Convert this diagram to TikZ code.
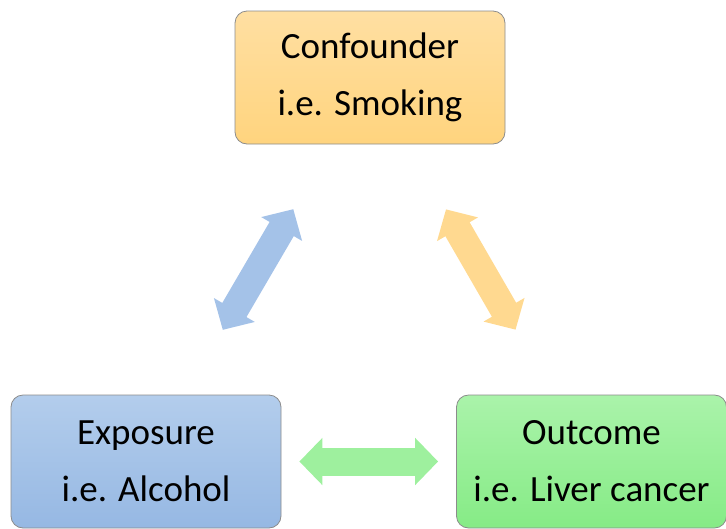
\documentclass[tikz,border=0pt]{standalone}
\usepackage{fontspec}
\setmainfont{Carlito}
\usetikzlibrary{arrows.meta}

\definecolor{orgtop}{HTML}{FFDFA2}
\definecolor{orgbot}{HTML}{FFD47E}
\definecolor{blutop}{HTML}{B3CDEC}
\definecolor{blubot}{HTML}{96B8E3}
\definecolor{grntop}{HTML}{AAF3AA}
\definecolor{grnbot}{HTML}{86EB86}
\definecolor{bluarr}{HTML}{A4C2E8}
\definecolor{orgarr}{HTML}{FFD990}
\definecolor{grnarr}{HTML}{9EF09E}

\begin{document}
\begin{tikzpicture}[x=1pt,y=-1pt,node distance=384pt]
\tikzstyle {box}=[rectangle, rounded corners=12pt, minimum width=270pt, minimum height=133pt, draw=black!45, line width=0.8pt, align=center, font=\fontsize{37}{57}\selectfont]
\tikzstyle {boxo}=[box, top color=orgtop, bottom color=orgbot]
\tikzstyle {boxb}=[box, top color=blutop, bottom color=blubot]
\tikzstyle {boxg}=[box, top color=grntop, bottom color=grnbot]
\tikzstyle {dblarr}=[line width=28pt, {Triangle[length=23pt,width=46pt]}-{Triangle[length=23pt,width=46pt]}]
\useasboundingbox (0,0) rectangle (726,528);
\node (conf) [boxo] at (370,77.5) {Confounder\\i.e. Smoking};
\node (expo) [boxb, below of=conf, xshift=-224pt] {Exposure\\i.e. Alcohol};
\node (outc) [boxg, right of=expo, xshift=61.5pt] {Outcome\\i.e. Liver cancer};

\draw[dblarr, draw=bluarr, shorten <=75pt, shorten >=75pt] (expo) -- (conf);
\draw[dblarr, draw=orgarr, shorten <=75pt, shorten >=75pt] (conf) -- (outc);
\draw[dblarr, draw=grnarr, shorten <=18pt, shorten >=18pt] (expo) -- (outc);
\end{tikzpicture}
\end{document}
